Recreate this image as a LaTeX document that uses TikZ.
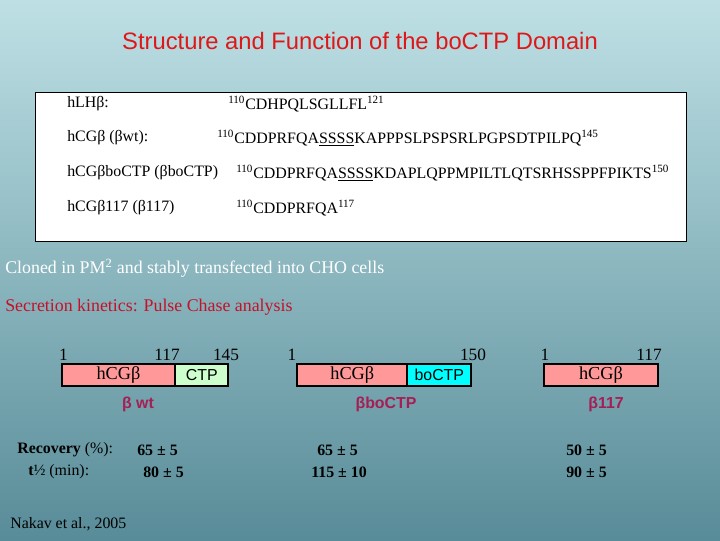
\documentclass[tikz,border=0pt]{standalone}
\usepackage{fontspec}
\setmainfont{Liberation Serif}
\setsansfont{Liberation Sans}
\usepackage{xcolor}
\usetikzlibrary{positioning}

\definecolor{bgtop}{RGB}{190,224,229}
\definecolor{bgbot}{RGB}{88,140,152}
\definecolor{titlered}{RGB}{222,24,24}
\definecolor{secred}{RGB}{196,18,40}
\definecolor{cgpink}{RGB}{255,153,153}
\definecolor{ctpgreen}{RGB}{204,255,204}
\definecolor{bocyan}{RGB}{0,255,255}
\definecolor{betalbl}{RGB}{165,30,85}

\newcommand{\resno}[1]{\textsuperscript{#1}}
\newcommand{\sfont}{\fontsize{11.3}{13}\selectfont}
\newcommand{\mfont}{\fontsize{12.7}{15}\selectfont}

\begin{document}
\begin{tikzpicture}[
    x=0.025cm, y=-0.025cm,
    txt/.style={anchor=west,inner sep=0pt,font=\sfont},
    num/.style={inner sep=0pt,font=\fontsize{12.3}{14}\selectfont},
    bar/.style={draw,line width=1.3pt,minimum height=0.54cm,inner sep=0pt,outer sep=0pt,font=\fontsize{13}{15}\selectfont},
    blbl/.style={inner sep=0pt,text=betalbl,font=\sffamily\bfseries\sfont},
    val/.style={anchor=west,inner sep=0pt,font=\bfseries\sfont}
  ]
    % background
    \shade[top color=bgtop,bottom color=bgbot] (0,0) rectangle (720,540);
    \useasboundingbox (0,0) rectangle (720,540);

    \node[inner sep=0pt,text=titlered,font=\sffamily\fontsize{16.9}{19}\selectfont] (title) at (360,41)
      {Structure and Function of the boCTP Domain};

    % sequence box
    \draw[fill=white,line width=0.6pt] (35,92) rectangle (686,241);
    \node[txt] (lh)    at (67,104) {hLHβ:};
    \node[txt] (lhs)   at (228,104) {\resno{110}CDHPQLSGLLFL\resno{121}};
    \node[txt] (wt)    at (67,138) {hCGβ (βwt):};
    \node[txt] (wts)   at (217,138) {\resno{110}CDDPRFQA\underline{SSSS}KAPPPSLPSPSRLPGPSDTPILPQ\resno{145}};
    \node[txt] (bo)    at (67,173) {hCGβboCTP (βboCTP)};
    \node[txt] (bos)   at (236,173) {\resno{110}CDDPRFQA\underline{SSSS}KDAPLQPPMPILTLQTSRHSSPPFPIKTS\resno{150}};
    \node[txt] (tr)    at (67,208) {hCGβ117 (β117)};
    \node[txt] (trs)   at (236,208) {\resno{110}CDDPRFQA\resno{117}};

    \node[txt,font=\mfont,text=white] (clone) at (5,268) {Cloned in PM\resno{2} and stably transfected into CHO cells};
    \node[txt,font=\mfont,text=secred] (kin) at (5,307) {Secretion kinetics: Pulse Chase analysis};

    % constructs
    \node[bar,fill=cgpink,minimum width=2.83cm] (wtcg) at (118.5,375) {hCGβ};
    \node[bar,fill=ctpgreen,minimum width=1.33cm,right=0pt of wtcg,font=\sffamily\sfont] (wtctp) {CTP};
    \node[num] (n1a) at (63.5,355) {1};
    \node[num] (n1b) at (167,355) {117};
    \node[num] (n1c) at (226,355) {145};
    \node[blbl] (b1) at (138,404) {β wt};

    \node[bar,fill=cgpink,minimum width=2.75cm] (bocg) at (352.3,375) {hCGβ};
    \node[bar,fill=bocyan,minimum width=1.6cm,right=0pt of bocg,font=\sffamily\sfont] (boctp) {boCTP};
    \node[num] (n2a) at (292,355) {1};
    \node[num] (n2b) at (473,355) {150};
    \node[blbl] (b2) at (386,404) {βboCTP};

    \node[bar,fill=cgpink,minimum width=2.85cm] (trcg) at (601,375) {hCGβ};
    \node[num] (n3a) at (545,355) {1};
    \node[num] (n3b) at (649,355) {117};
    \node[blbl] (b3) at (606,404) {β117};

    % results
    \node[txt] (rec) at (17,450) {\textbf{Recovery} (\%):};
    \node[txt] (half) at (28,472) {\textbf{t}½ (min):};
    \node[val] (r1) at (137,450) {65 ± 5};
    \node[val] (h1) at (143,472) {80 ± 5};
    \node[val] (r2) at (317,450) {65 ± 5};
    \node[val] (h2) at (311,472) {115 ± 10};
    \node[val] (r3) at (566,450) {50 ± 5};
    \node[val] (h3) at (566,472) {90 ± 5};

    \node[txt] (ref) at (10,524) {Nakav et al., 2005};
\end{tikzpicture}
\end{document}
